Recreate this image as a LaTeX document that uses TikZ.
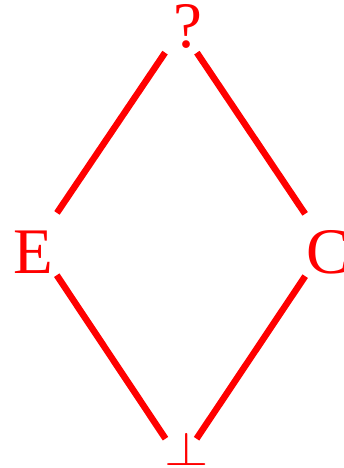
\documentclass[tikz,border=0pt]{standalone}
\usepackage{fontspec}
\setmainfont{Liberation Serif}
\newcommand{\glyphat}[3]{\makebox[0pt][l]{\kern#1\raisebox{-#2}[0pt][0pt]{#3}}}
\begin{document}
\begin{tikzpicture}[x=1pt,y=-1pt,
  vert/.style={circle,inner sep=0pt,outer sep=0pt,text=red,font=\fontsize{65}{70}\selectfont},
  edge/.style={red,line width=6.5pt}]
\useasboundingbox (0,0) rectangle (343,468);
\node[vert,minimum size=57pt] (q) at (181,29) {\glyphat{-8pt}{19pt}{?}};
\node[vert,minimum size=75pt] (e) at (36,244) {\glyphat{-23pt}{29pt}{E}};
\node[vert,minimum size=75pt] (c) at (326,245) {\glyphat{-20pt}{28pt}{C}};
\node[vert,minimum size=56pt] (b) at (181,462) {\glyphat{-17pt}{3pt}{\fontsize{10}{12}\selectfont\scalebox{5.7}[4.8]{$\bot$}}};
\draw[edge] (q) -- (e);
\draw[edge] (q) -- (c);
\draw[edge] (e) -- (b);
\draw[edge] (c) -- (b);
\end{tikzpicture}
\end{document}
